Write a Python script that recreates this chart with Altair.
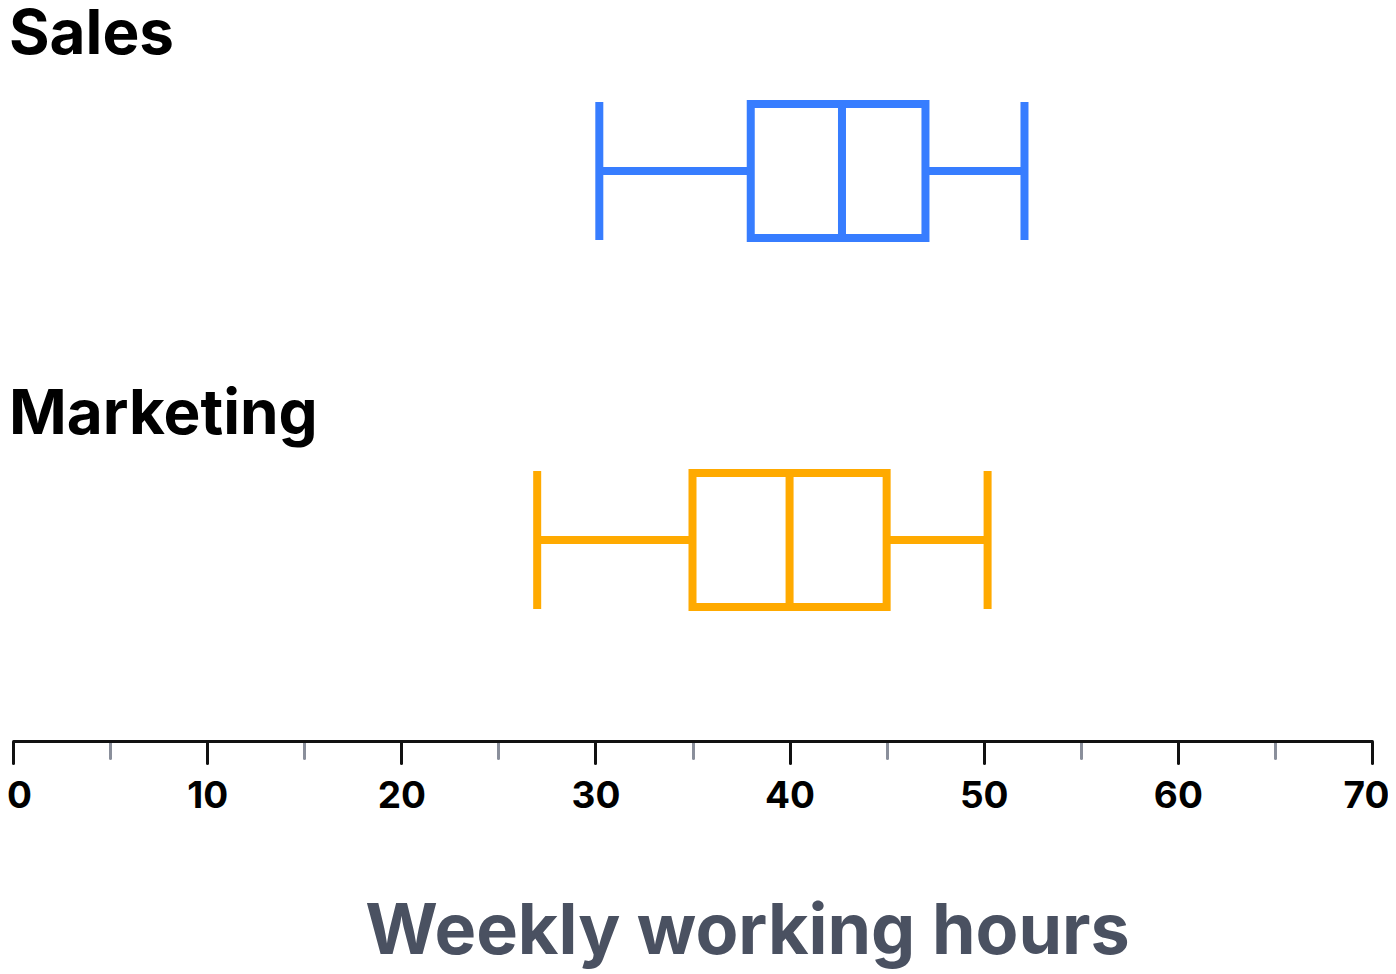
import altair as alt
import pandas as pd

departments = ["Sales", "Marketing"]
whisker_low = [30.2, 27.0]
q1 = [38.0, 35.0]
median = [42.7, 40.0]
q3 = [47.0, 45.0]
whisker_high = [52.1, 50.2]
tick_values = list(range(0, 71, 5))
colors = ["#377dff", "#ffaa00"]

df = pd.DataFrame({
    "dept": departments,
    "low": whisker_low,
    "q1": q1,
    "median": median,
    "q3": q3,
    "high": whisker_high,
})

FONT = "Inter"
TITLE = "Weekly working hours"

xscale = alt.Scale(domain=[0, 70], nice=False, zero=False)
yscale = alt.Scale(type="band", domain=departments, paddingInner=0.5, paddingOuter=0.2364, align=0.377)
label_yscale = alt.Scale(type="band", domain=departments, paddingInner=0.9, paddingOuter=0.4079, align=0.071)
color = alt.Color("dept:N", scale=alt.Scale(domain=departments, range=colors), legend=None)
y = alt.Y("dept:N", scale=yscale, axis=None)

minor_test = "datum.value % 10 !== 0"
xaxis = alt.Axis(
    orient="bottom",
    values=tick_values,
    labelExpr="datum.value % 10 === 0 ? datum.label : ''",
    grid=False,
    domainColor="#111111",
    domainWidth=3,
    tickColor={"condition": {"test": minor_test, "value": "#8a8f9b"}, "value": "#111111"},
    tickSize={"condition": {"test": minor_test, "value": 17}, "value": 22},
    tickWidth=3,
    tickCap="round",
    labelFont=FONT,
    labelFontSize=37,
    labelFontWeight="bold",
    labelColor="#000000",
    labelBaseline="alphabetic",
    labelPadding=44,
    labelOffset={"condition": {"test": "datum.value === 0", "value": 6},
                 "expr": "datum.value === 70 ? -6 : 0"},
    labelOverlap=False,
    labelFlush=False,
    title=TITLE,
    titleFont=FONT,
    titleFontSize=70,
    titleFontWeight="bold",
    titleColor="#4a5161",
    titleX=734,
    titleY=212,
    titleAlign="center",
    titleBaseline="alphabetic",
)

base = alt.Chart(df)

whisker_lo = base.mark_rule(strokeWidth=8).encode(
    x=alt.X("low:Q", scale=xscale, axis=xaxis, title=TITLE), x2="q1:Q", y=y, color=color
)
whisker_hi = base.mark_rule(strokeWidth=8).encode(
    x=alt.X("q3:Q", scale=xscale, axis=None), x2="high:Q", y=y, color=color
)
cap_lo = base.mark_tick(size=138, thickness=8, opacity=1).encode(
    x=alt.X("low:Q", scale=xscale, axis=None), y=y, color=color
)
cap_hi = base.mark_tick(size=138, thickness=8, opacity=1).encode(
    x=alt.X("high:Q", scale=xscale, axis=None), y=y, color=color
)
box = base.mark_bar(filled=False, strokeWidth=8, size=134).encode(
    x=alt.X("q1:Q", scale=xscale, axis=None), x2="q3:Q", y=y, stroke=color
)
med = base.mark_tick(size=134, thickness=8, opacity=1).encode(
    x=alt.X("median:Q", scale=xscale, axis=None), y=y, color=color
)
labels = base.mark_text(
    align="left", baseline="alphabetic", font=FONT, fontSize=62,
    fontWeight="bold", color="#000000"
).encode(
    x=alt.value(-4),
    y=alt.Y("dept:N", scale=label_yscale, axis=None),
    text="dept:N",
)

chart = alt.layer(whisker_lo, whisker_hi, box, cap_lo, cap_hi, med, labels).resolve_scale(
    x="independent", y="independent"
).properties(
    width=1359,
    height=728,
    autosize=alt.AutoSizeParams(type="none"),
    padding={"left": 5, "top": 5, "right": 16, "bottom": 230},
).configure_view(stroke=None)

chart.save("out.html", embed_options={"renderer": "svg", "actions": False})
